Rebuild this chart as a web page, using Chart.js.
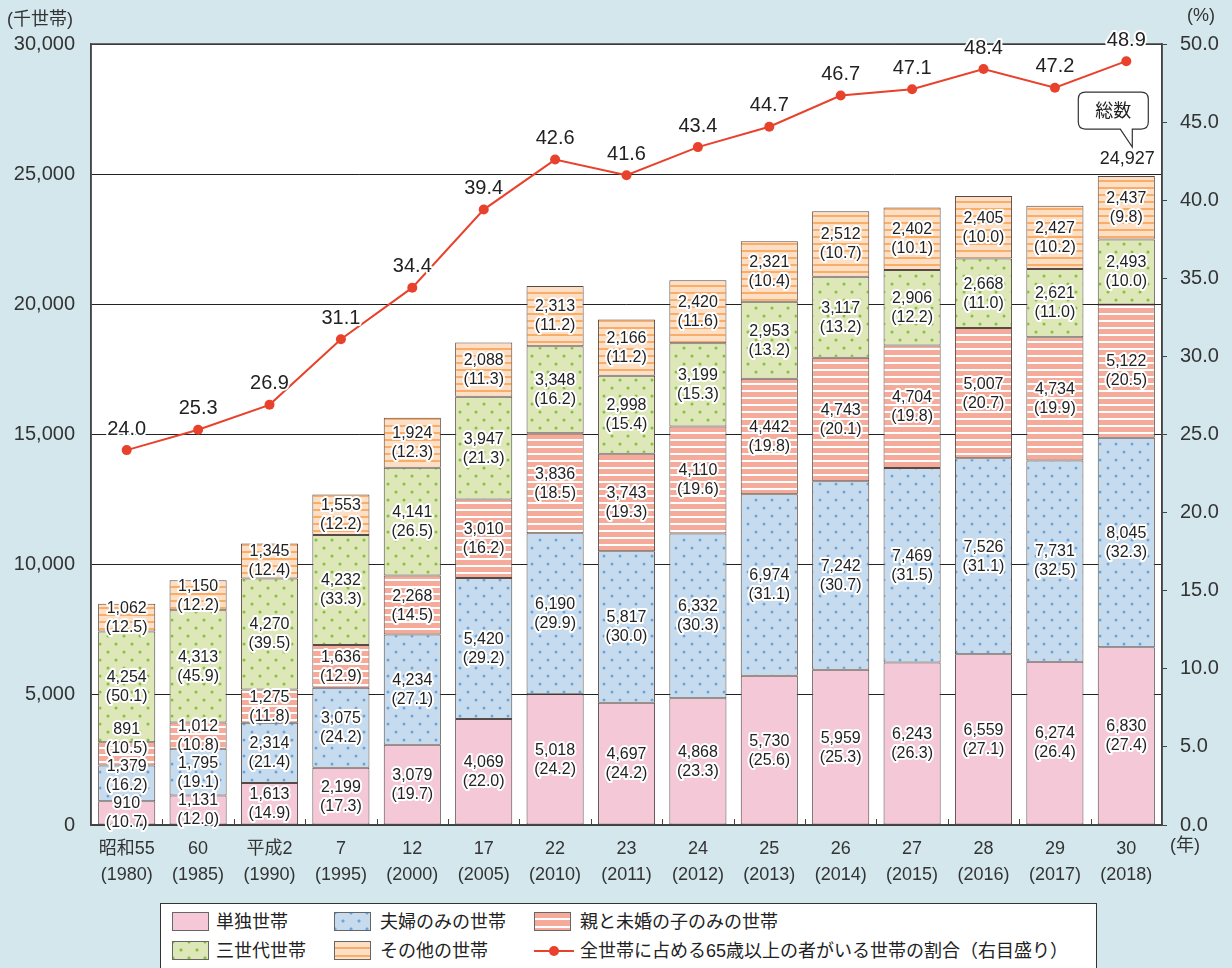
<!DOCTYPE html>
<html lang="ja">
<head>
<meta charset="utf-8">
<script src="https://cdn.jsdelivr.net/npm/chart.js@4"></script>
<style>
  html, body { margin: 0; padding: 0; background: #d3e7ec; }
  body { width: 1232px; height: 968px; position: relative; overflow: hidden;
         font-family: 'Liberation Sans', 'Noto Sans CJK JP', sans-serif; color: #222; }
  #chart { position: absolute; left: 0; top: 0; }
  #legend { position: absolute; left: 160px; top: 903px; width: 937px; height: 80px;
            background: #fff; border: 1px solid #333; box-sizing: border-box; }
  .item { position: absolute; font-size: 18px; line-height: 20px; white-space: nowrap; }
  .sw { position: absolute; width: 37px; height: 19px; box-sizing: border-box; border: 1px solid #666; }
  .sw-single { background: #f5c8d8; }
  .sw-couple { background-color: #c6dcee;
    background-image: radial-gradient(circle, #6fa3d8 1.3px, transparent 1.8px),
                      radial-gradient(circle, #6fa3d8 1.3px, transparent 1.8px);
    background-size: 16px 16px; background-position: 0 0, 8px 8px; }
  .sw-parent { background: repeating-linear-gradient(to bottom, #f5aa9a 0 5px, #fff 5px 7px, #f5aa9a 7px 8px); }
  .sw-three { background-color: #dde7b8;
    background-image: radial-gradient(circle, #86c03c 1.3px, transparent 1.8px),
                      radial-gradient(circle, #86c03c 1.3px, transparent 1.8px);
    background-size: 16px 16px; background-position: 0 0, 8px 8px; }
  .sw-other { background: repeating-linear-gradient(to bottom, #fddfc6 0 5px, #f9ad66 5px 7px, #fddfc6 7px 8px); }
  .ln { position: absolute; width: 40px; height: 2px; background: #e8412c; }
  .dot { position: absolute; width: 10px; height: 10px; border-radius: 50%; background: #e8412c; }
</style>
</head>
<body>
<canvas id="chart" width="1232" height="900"></canvas>
<div id="legend">
  <div class="sw sw-single" style="left:11px; top:8px;"></div>
  <div class="item" style="left:55px; top:8px;">単独世帯</div>
  <div class="sw sw-couple" style="left:173px; top:8px;"></div>
  <div class="item" style="left:219px; top:8px;">夫婦のみの世帯</div>
  <div class="sw sw-parent" style="left:373px; top:8px;"></div>
  <div class="item" style="left:419px; top:8px;">親と未婚の子のみの世帯</div>
  <div class="sw sw-three" style="left:11px; top:37px;"></div>
  <div class="item" style="left:55px; top:37px;">三世代世帯</div>
  <div class="sw sw-other" style="left:173px; top:37px;"></div>
  <div class="item" style="left:219px; top:37px;">その他の世帯</div>
  <div class="ln" style="left:373px; top:46px;"></div>
  <div class="dot" style="left:388px; top:42px;"></div>
  <div class="item" style="left:419px; top:37px;">全世帯に占める65歳以上の者がいる世帯の割合（右目盛り）</div>
</div>
<script>
const categories = [
  ['昭和55', '(1980)'], ['60', '(1985)'], ['平成2', '(1990)'], ['7', '(1995)'],
  ['12', '(2000)'], ['17', '(2005)'], ['22', '(2010)'], ['23', '(2011)'],
  ['24', '(2012)'], ['25', '(2013)'], ['26', '(2014)'], ['27', '(2015)'],
  ['28', '(2016)'], ['29', '(2017)'], ['30', '(2018)']
];

const singleHouseholds = [910, 1131, 1613, 2199, 3079, 4069, 5018, 4697, 4868, 5730, 5959, 6243, 6559, 6274, 6830];
const singlePct = [10.7, 12.0, 14.9, 17.3, 19.7, 22.0, 24.2, 24.2, 23.3, 25.6, 25.3, 26.3, 27.1, 26.4, 27.4];

const coupleOnly = [1379, 1795, 2314, 3075, 4234, 5420, 6190, 5817, 6332, 6974, 7242, 7469, 7526, 7731, 8045];
const couplePct = [16.2, 19.1, 21.4, 24.2, 27.1, 29.2, 29.9, 30.0, 30.3, 31.1, 30.7, 31.5, 31.1, 32.5, 32.3];

const parentChild = [891, 1012, 1275, 1636, 2268, 3010, 3836, 3743, 4110, 4442, 4743, 4704, 5007, 4734, 5122];
const parentPct = [10.5, 10.8, 11.8, 12.9, 14.5, 16.2, 18.5, 19.3, 19.6, 19.8, 20.1, 19.8, 20.7, 19.9, 20.5];

const threeGen = [4254, 4313, 4270, 4232, 4141, 3947, 3348, 2998, 3199, 2953, 3117, 2906, 2668, 2621, 2493];
const threeGenPct = [50.1, 45.9, 39.5, 33.3, 26.5, 21.3, 16.2, 15.4, 15.3, 13.2, 13.2, 12.2, 11.0, 11.0, 10.0];

const otherHouseholds = [1062, 1150, 1345, 1553, 1924, 2088, 2313, 2166, 2420, 2321, 2512, 2402, 2405, 2427, 2437];
const otherPct = [12.5, 12.2, 12.4, 12.2, 12.3, 11.3, 11.2, 11.2, 11.6, 10.4, 10.7, 10.1, 10.0, 10.2, 9.8];

const elderlyShare = [24.0, 25.3, 26.9, 31.1, 34.4, 39.4, 42.6, 41.6, 43.4, 44.7, 46.7, 47.1, 48.4, 47.2, 48.9];

const totalLast = '24,927';

const FONT = "'Liberation Sans', 'Noto Sans CJK JP', sans-serif";
const canvas = document.getElementById('chart');
const ctx = canvas.getContext('2d');

function makePattern(bg, fg, kind) {
  const c = document.createElement('canvas');
  const p = c.getContext('2d');
  if (kind === 'dots') {
    c.width = 16; c.height = 16;
    p.fillStyle = bg; p.fillRect(0, 0, 16, 16);
    p.fillStyle = fg;
    [[4, 4], [12, 12]].forEach(([x, y]) => { p.beginPath(); p.arc(x, y, 1.5, 0, Math.PI * 2); p.fill(); });
  } else if (kind === 'stripes') {
    c.width = 8; c.height = 7;
    p.fillStyle = bg; p.fillRect(0, 0, 8, 7);
    p.fillStyle = fg; p.fillRect(0, 5, 8, 2);
  } else {
    c.width = 4; c.height = 4;
    p.fillStyle = bg; p.fillRect(0, 0, 4, 4);
  }
  return ctx.createPattern(c, 'repeat');
}

function barSet(label, data, pct, fill) {
  return {
    type: 'bar', label: label, data: data, pct: pct,
    backgroundColor: fill, borderColor: '#574a44', borderWidth: 1, borderSkipped: false,
    barPercentage: 0.8, categoryPercentage: 1.0, yAxisID: 'y', order: 1
  };
}

function haloText(c, text, x, y) {
  c.strokeText(text, x, y);
  c.fillText(text, x, y);
}

const labelPlugin = {
  id: 'labels',
  beforeDraw(chart) {
    const c = chart.ctx, a = chart.chartArea;
    c.save();
    c.fillStyle = '#d3e7ec';
    c.fillRect(0, 0, chart.width, chart.height);
    c.fillStyle = '#fff';
    c.fillRect(a.left, a.top, a.right - a.left, a.bottom - a.top);
    c.restore();
  },
  beforeDatasetsDraw(chart) {
    const c = chart.ctx, a = chart.chartArea;
    c.save();
    c.strokeStyle = '#444';
    c.lineWidth = 1.5;
    c.strokeRect(a.left, a.top, a.right - a.left, a.bottom - a.top);
    c.restore();
  },
  afterDatasetsDraw(chart) {
    const c = chart.ctx;
    c.save();
    c.textAlign = 'center';
    c.textBaseline = 'middle';
    c.lineJoin = 'round';
    c.strokeStyle = '#fff';
    c.lineWidth = 4;
    c.fillStyle = '#222';
    c.font = '16px ' + FONT;
    // labels per column, stacked bottom-up, nudged apart when segments are thin
    const barSets = chart.data.datasets.map((ds, i) => [ds, i]).filter(([ds]) => ds.type === 'bar');
    categories.forEach((cat, j) => {
      let prev = Infinity;
      barSets.forEach(([ds, i]) => {
        const bar = chart.getDatasetMeta(i).data[j];
        const cy = Math.min((bar.y + bar.base) / 2, prev - 37);
        prev = cy;
        haloText(c, ds.data[j].toLocaleString('en-US'), bar.x, cy - 9);
        haloText(c, '(' + ds.pct[j].toFixed(1) + ')', bar.x, cy + 10);
      });
    });
    c.font = '20px ' + FONT;
    const li = chart.data.datasets.findIndex(d => d.type === 'line');
    chart.getDatasetMeta(li).data.forEach((pt, j) => {
      haloText(c, elderlyShare[j].toFixed(1), pt.x, pt.y - 21);
    });
    c.restore();
  },
  afterDraw(chart) {
    const c = chart.ctx, a = chart.chartArea;
    c.save();
    // category separators on the x axis
    const slot = (a.right - a.left) / categories.length;
    c.strokeStyle = '#444';
    c.lineWidth = 1;
    for (let i = 1; i < categories.length; i++) {
      const x = Math.round(a.left + i * slot) + 0.5;
      c.beginPath(); c.moveTo(x, a.bottom - 6); c.lineTo(x, a.bottom); c.stroke();
    }
    // axis titles
    c.fillStyle = '#333';
    c.textBaseline = 'middle';
    c.font = '18px ' + FONT;
    c.textAlign = 'left';
    c.fillText('(千世帯)', 7, 20);
    c.fillText('(%)', 1187, 16);
    c.fillText('(年)', 1170, 846);
    // callout for the total of the last bar
    const meta = chart.getDatasetMeta(chart.data.datasets.length - 1);
    const last = meta.data[meta.data.length - 1];
    const cx = last.x;
    c.font = '18px ' + FONT;
    c.textAlign = 'center';
    c.fillStyle = '#222';
    c.fillText(totalLast, cx + 1, last.y - 17);
    const bx = cx - 48, by = last.y - 84, bw = 70, bh = 37, r = 7;
    c.beginPath();
    c.moveTo(bx + r, by);
    c.lineTo(bx + bw - r, by);
    c.quadraticCurveTo(bx + bw, by, bx + bw, by + r);
    c.lineTo(bx + bw, by + bh - r);
    c.quadraticCurveTo(bx + bw, by + bh, bx + bw - r, by + bh);
    c.lineTo(cx + 6, by + bh);
    c.lineTo(cx + 6, last.y - 29);
    c.lineTo(cx - 6, by + bh);
    c.lineTo(bx + r, by + bh);
    c.quadraticCurveTo(bx, by + bh, bx, by + bh - r);
    c.lineTo(bx, by + r);
    c.quadraticCurveTo(bx, by, bx + r, by);
    c.closePath();
    c.fillStyle = '#fff';
    c.fill();
    c.strokeStyle = '#333';
    c.lineWidth = 1.2;
    c.stroke();
    c.fillStyle = '#222';
    c.fillText('総数', bx + bw / 2, by + bh / 2 + 1);
    c.restore();
  }
};

new Chart(ctx, {
  data: {
    labels: categories,
    datasets: [
      {
        type: 'line', label: '全世帯に占める65歳以上の者がいる世帯の割合（右目盛り）',
        data: elderlyShare, yAxisID: 'y1', order: 0,
        borderColor: '#e8412c', borderWidth: 2, backgroundColor: '#e8412c',
        pointRadius: 5, pointBackgroundColor: '#e8412c', pointBorderWidth: 0, tension: 0
      },
      barSet('単独世帯', singleHouseholds, singlePct, makePattern('#f5c8d8', null, 'solid')),
      barSet('夫婦のみの世帯', coupleOnly, couplePct, makePattern('#c6dcee', '#6fa3d8', 'dots')),
      barSet('親と未婚の子のみの世帯', parentChild, parentPct, makePattern('#f5aa9a', '#ffffff', 'stripes')),
      barSet('三世代世帯', threeGen, threeGenPct, makePattern('#dde7b8', '#86c03c', 'dots')),
      barSet('その他の世帯', otherHouseholds, otherPct, makePattern('#fddfc6', '#f9ad66', 'stripes'))
    ]
  },
  options: {
    responsive: false,
    animation: false,
    devicePixelRatio: 1,
    layout: { padding: { top: 44, left: 0, right: 0, bottom: 0 } },
    plugins: { legend: { display: false }, tooltip: { enabled: false } },
    scales: {
      x: {
        stacked: true,
        grid: { display: false },
        border: { display: true, color: '#444', width: 1.5 },
        ticks: { color: '#333', padding: 3, maxRotation: 0, autoSkip: false,
                 font: { family: FONT, size: 18, lineHeight: 1.45 } },
        afterFit(scale) { scale.height = 75; }
      },
      y: {
        stacked: true, min: 0, max: 30000,
        grid: { color: '#222', lineWidth: 1, drawTicks: false },
        border: { display: true, color: '#444', width: 1.5 },
        ticks: { stepSize: 5000, padding: 16, color: '#333',
                 font: { family: FONT, size: 20 },
                 callback: v => v.toLocaleString('en-US') },
        afterFit(scale) { scale.width = 91; }
      },
      y1: {
        position: 'right', min: 0, max: 50,
        grid: { drawOnChartArea: false, color: '#444', tickLength: 5 },
        border: { display: true, color: '#444', width: 1.5 },
        ticks: { stepSize: 5, padding: 13, color: '#333',
                 font: { family: FONT, size: 20 },
                 callback: v => v.toFixed(1) },
        afterFit(scale) { scale.width = 70; }
      }
    }
  },
  plugins: [labelPlugin]
});
</script>
</body>
</html>
